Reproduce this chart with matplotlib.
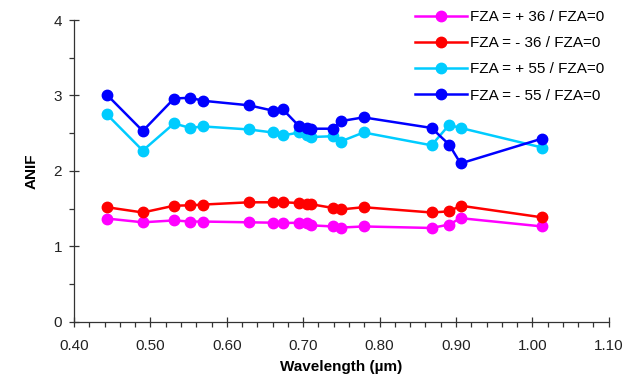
import matplotlib
matplotlib.use("Agg")
import matplotlib.pyplot as plt
from matplotlib.ticker import MultipleLocator

plt.rcParams["font.family"] = ["Liberation Sans", "DejaVu Sans"]

# wavelengths (um)
wavelength = [0.443, 0.490, 0.531, 0.552, 0.569, 0.629, 0.660, 0.673, 0.695,
              0.705, 0.710, 0.739, 0.749, 0.779, 0.868, 0.891, 0.906, 1.013]

# ANIF ratios
plus36 = [1.37, 1.32, 1.345, 1.33, 1.33, 1.32, 1.315, 1.31, 1.315,
          1.305, 1.28, 1.265, 1.25, 1.265, 1.245, 1.29, 1.375, 1.265]
minus36 = [1.52, 1.45, 1.54, 1.545, 1.555, 1.585, 1.585, 1.585, 1.576,
           1.56, 1.56, 1.51, 1.49, 1.52, 1.45, 1.465, 1.54, 1.385]
plus55 = [2.75, 2.27, 2.63, 2.57, 2.59, 2.55, 2.51, 2.47, 2.51,
          2.48, 2.45, 2.46, 2.39, 2.51, 2.34, 2.61, 2.57, 2.31]
minus55 = [3.01, 2.53, 2.96, 2.97, 2.93, 2.87, 2.80, 2.82, 2.59,
           2.57, 2.56, 2.56, 2.66, 2.71, 2.57, 2.35, 2.10, 2.43]

labels = ["FZA = + 36 / FZA=0", "FZA = - 36 / FZA=0",
          "FZA = + 55 / FZA=0", "FZA = - 55 / FZA=0"]
colors = ["#ff00ff", "#ff0000", "#00ccff", "#0000ff"]

fig = plt.figure(figsize=(6.24, 3.81), dpi=100)
ax = fig.add_axes([0.1186, 0.155, 0.857, 0.7925])

for ys, lab, c in zip([plus36, minus36, plus55, minus55], labels, colors):
    ax.plot(wavelength, ys, color=c, lw=1.8, marker="o", ms=7.5,
            markeredgecolor=c, label=lab, clip_on=False)

ax.set_xlim(0.40, 1.10)
ax.set_ylim(0, 4)
ax.xaxis.set_major_locator(MultipleLocator(0.1))
ax.xaxis.set_minor_locator(MultipleLocator(0.02))
ax.yaxis.set_major_locator(MultipleLocator(1))
ax.yaxis.set_minor_locator(MultipleLocator(0.5))
ax.xaxis.set_major_formatter(plt.FormatStrFormatter("%.2f"))

ax.spines["top"].set_visible(False)
ax.spines["right"].set_visible(False)
for s in ["left", "bottom"]:
    ax.spines[s].set_color("#333333")
    ax.spines[s].set_linewidth(0.9)
ax.tick_params(which="major", direction="inout", length=7, width=0.9,
               labelsize=11, colors="#333333", labelcolor="#222222")
ax.tick_params(axis="x", which="major", pad=9)
ax.tick_params(axis="y", which="major", pad=5)
ax.tick_params(which="minor", direction="out", length=3.5, width=0.9,
               colors="#333333")

ax.set_xlabel("Wavelength (µm)", fontsize=11, fontweight="bold", labelpad=5)
ax.set_ylabel("ANIF", fontsize=11, fontweight="bold", labelpad=11)

fig.legend(loc="upper right", bbox_to_anchor=(0.985, 1.0), frameon=False,
           fontsize=11, handlelength=3.4, handletextpad=0.2,
           labelspacing=0.8, borderaxespad=0.25)

fig.savefig("out.png", dpi=100)
